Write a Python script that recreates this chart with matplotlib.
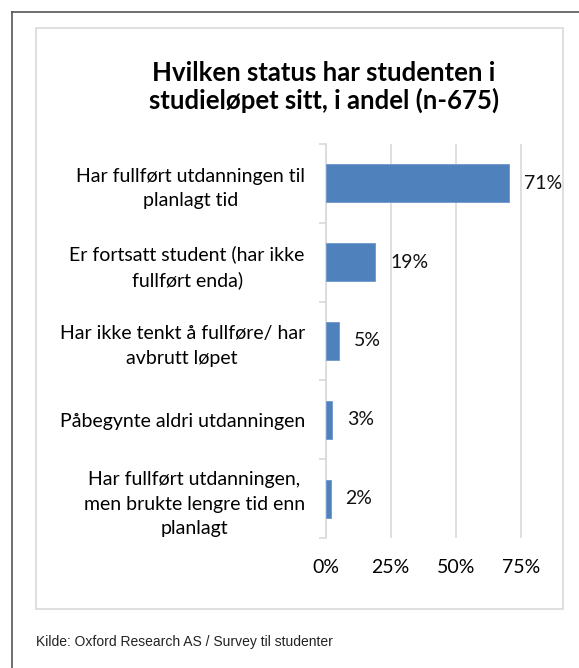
import matplotlib.pyplot as plt
from matplotlib.patches import Rectangle
from matplotlib.lines import Line2D

categories = [
    "Har fullført utdanningen til\nplanlagt tid",
    "Er fortsatt student (har ikke\nfullført enda)",
    "Har ikke tenkt å fullføre/ har\navbrutt løpet",
    "Påbegynte aldri utdanningen",
    "Har fullført utdanningen,\nmen brukte lengre tid enn\nplanlagt",
]
values = [70.6, 19.0, 5.2, 2.6, 1.9]
labels = ["71%", "19%", "5%", "3%", "2%"]
xticks = [0, 25, 50, 75]
xticklabels = ["0%", "25%", "50%", "75%"]

W, H = 579, 668
fig = plt.figure(figsize=(W / 100, H / 100), dpi=100)
fig.patch.set_facecolor("white")

# outer border (top and left) and inner chart frame
fig.add_artist(Line2D([12 / W, 12 / W], [0, 1 - 12 / H], color="#555555", lw=1.2))
fig.add_artist(Line2D([12 / W, 1], [1 - 12 / H, 1 - 12 / H], color="#555555", lw=1.2))
fig.add_artist(Rectangle((36 / W, 1 - 609 / H), (563 - 36) / W, (609 - 28) / H,
                         transform=fig.transFigure, fill=False, edgecolor="#d9d9d9", lw=1.2))

font = "Lato"
fs = 14
ax = fig.add_axes([325.7 / W, 1 - 538.3 / H, 80 * 2.6 / W, (538.3 - 143.7) / H])
y = list(range(len(categories)))
ax.barh(y, values, height=0.49, color="#4f81bd", edgecolor="#6f97cc", lw=0.6, zorder=3)
ax.set_ylim(len(categories) - 0.5, -0.5)
ax.set_xlim(0, 80)

for yi, v, lab in zip(y, values, labels):
    ax.annotate(lab, (v, yi), xytext=(15, 0), textcoords="offset pixels",
                va="center", ha="left", fontsize=fs, family=font, color="#111111")

ax.set_xticks(xticks)
ax.set_xticklabels(xticklabels, fontsize=fs, family=font)
ax.tick_params(axis="x", length=0, pad=15)
ax.grid(axis="x", color="#d9d9d9", lw=1.2, zorder=0)

ax.set_yticks(y)
ax.set_yticklabels(categories, fontsize=fs, family=font, ha="right",
                   multialignment="center", linespacing=1.53)
ax.tick_params(axis="y", which="major", length=0, pad=15)
ax.set_yticks([i - 0.5 for i in range(len(categories) + 1)], minor=True)
ax.tick_params(axis="y", which="minor", length=5, color="#d9d9d9", width=1.2)

for s in ["top", "right", "bottom"]:
    ax.spines[s].set_visible(False)
ax.spines["left"].set_color("#d9d9d9")
ax.spines["left"].set_linewidth(1.2)

fig.text(324 / W, 1 - 87 / H, "Hvilken status har studenten i\nstudieløpet sitt, i andel (n-675)",
         ha="center", va="center", fontsize=18.5, fontweight="bold", family=font,
         linespacing=1.15)
fig.text(36 / W, 1 - 642 / H, "Kilde: Oxford Research AS / Survey til studenter",
         ha="left", va="center", fontsize=10, family="Liberation Sans", color="#222222")

fig.savefig("out.png", dpi=100)
